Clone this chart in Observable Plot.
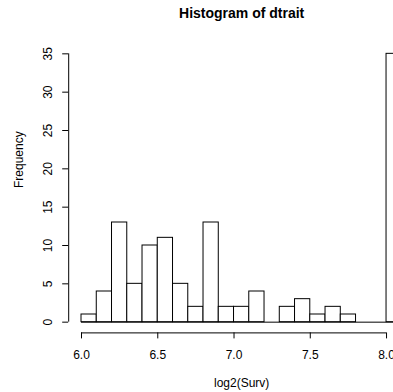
<!DOCTYPE html>
<html>
<head>
<meta charset="utf-8">
<script src="https://cdn.jsdelivr.net/npm/d3@7"></script>
<script src="https://cdn.jsdelivr.net/npm/@observablehq/plot@0.6"></script>
<style>
  html, body { margin: 0; padding: 0; background: #fff; overflow: hidden; }
  #chart svg { overflow: hidden; }
</style>
</head>
<body>
<div id="chart"></div>
<script>
// Histogram bin edges (log2(Surv)) and counts per bin
const breaks = [6.0, 6.1, 6.2, 6.3, 6.4, 6.5, 6.6, 6.7, 6.8, 6.9, 7.0,
                7.1, 7.2, 7.3, 7.4, 7.5, 7.6, 7.7, 7.8, 7.9, 8.0, 8.1];
const counts = [1, 4, 13, 5, 10, 11, 5, 2, 13, 2,
                2, 4, 0, 2, 3, 1, 2, 1, 0, 0, 35];
const xTicks = [6.0, 6.5, 7.0, 7.5, 8.0];
const yTicks = [0, 5, 10, 15, 20, 25, 30, 35];
const titleText = "Histogram of dtrait";
const xLabel = "log2(Surv)";
const yLabel = "Frequency";

const bins = counts.map((c, i) => ({x1: breaks[i], x2: breaks[i + 1], count: c}));
const nonZero = bins.filter(d => d.count > 0);

// R-style 4% axis extension
const xr = [breaks[0], breaks[breaks.length - 1]];
const xPad = 0.04 * (xr[1] - xr[0]);
const xDomain = [xr[0] - xPad, xr[1] + xPad];
const yMax = d3.max(counts);
const yDomain = [-0.04 * yMax, yMax * 1.04];

const font = "'Liberation Sans', Arial, Helvetica, sans-serif";

const chart = Plot.plot({
  width: 393,
  height: 392,
  marginLeft: 68.2,
  marginRight: -21.1,
  marginTop: 42.6,
  marginBottom: 59.6,
  style: {fontFamily: font, fontSize: "12px", color: "black", background: "white", overflow: "hidden"},
  x: {domain: xDomain, axis: null},
  y: {domain: yDomain, axis: null},
  marks: [
    // zero-count bins show as flat line on baseline
    Plot.ruleY([0], {x1: breaks[0], x2: breaks[breaks.length - 1], stroke: "black", strokeWidth: 1}),
    Plot.rectY(nonZero, {x1: "x1", x2: "x2", y1: 0, y2: "count", fill: "white", stroke: "black", strokeWidth: 1, inset: 0}),
    // x axis
    Plot.ruleY([yDomain[0]], {x1: xTicks[0], x2: xTicks[xTicks.length - 1], stroke: "black"}),
    Plot.axisX({ticks: xTicks, tickSize: 6, tickPadding: 12, tickFormat: d3.format(".1f"), fontSize: 12, stroke: "black", label: null}),
    // y axis
    Plot.ruleX([xDomain[0]], {y1: yTicks[0], y2: yTicks[yTicks.length - 1], stroke: "black"}),
    Plot.axisY({ticks: yTicks, tickSize: 6, tickFormat: () => "", stroke: "black", label: null}),
    Plot.text(yTicks, {x: xDomain[0], y: d => d, text: d => String(d), rotate: -90, dx: -20.2, fontSize: 12, textAnchor: "middle", lineAnchor: "middle", fill: "black"}),
    // titles
    Plot.text([titleText], {frameAnchor: "top", dy: -29.1, fontSize: 14, fontWeight: "bold", lineAnchor: "middle", fill: "black"}),
    Plot.text([xLabel], {frameAnchor: "bottom", dy: 50.6, fontSize: 12, lineAnchor: "middle", fill: "black"}),
    Plot.text([yLabel], {frameAnchor: "left", dx: -49.9, rotate: -90, fontSize: 12, lineAnchor: "middle", fill: "black"})
  ]
});
document.getElementById("chart").appendChild(chart);
</script>
</body>
</html>
